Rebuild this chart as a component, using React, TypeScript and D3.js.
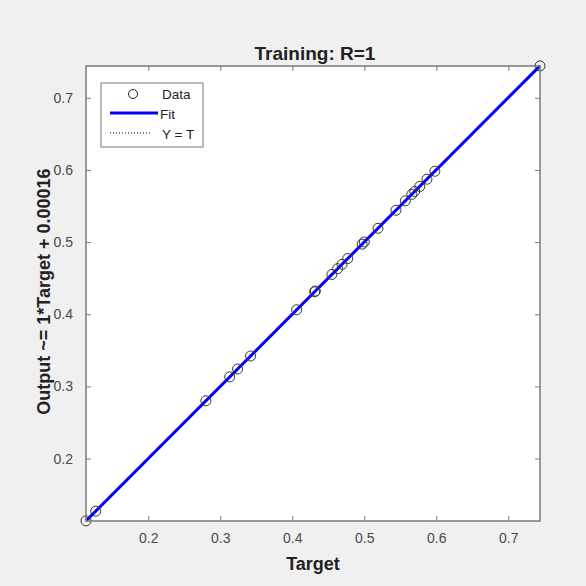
import React, { useEffect, useRef } from "react";
import * as d3 from "d3";

// targets (outputs ~= targets + 0.00016)
const targets = [
  0.1135, 0.127, 0.28, 0.313, 0.324, 0.342, 0.406, 0.431, 0.432, 0.455, 0.463,
  0.469, 0.477, 0.497, 0.5, 0.519, 0.544, 0.557, 0.566, 0.57, 0.577, 0.587,
  0.598, 0.744,
];
const slope = 1;
const intercept = 0.00016;
const outputs = targets.map((t) => t * slope + intercept);
const tickValues = [0.2, 0.3, 0.4, 0.5, 0.6, 0.7];
const legendLabels = ["Data", "Fit", "Y = T"];

const W = 586,
  H = 586;
const margin = { top: 66, right: 46, bottom: 65, left: 86 };

const App = () => {
  const ref = useRef<SVGSVGElement>(null);

  useEffect(() => {
    const svg = d3.select(ref.current);
    svg.selectAll("*").remove();

    const width = W - margin.left - margin.right;
    const height = H - margin.top - margin.bottom;
    const font = "'Liberation Sans', Arial, sans-serif";
    const fmt = d3.format(".1f");

    svg.append("rect").attr("width", W).attr("height", H).attr("fill", "#f0f0f0");

    const lo = d3.min(targets)!,
      hi = d3.max(targets)!;
    const x = d3.scaleLinear().domain([lo, hi]).range([0, width]);
    const y = d3.scaleLinear().domain([lo, hi]).range([height, 0]);

    const g = svg
      .append("g")
      .attr("transform", "translate(" + margin.left + "," + margin.top + ")");

    g.append("rect").attr("width", width).attr("height", height).attr("fill", "#fff");

    // Y = T dotted
    g.append("line")
      .attr("x1", x(lo))
      .attr("y1", y(lo))
      .attr("x2", x(hi))
      .attr("y2", y(hi))
      .attr("stroke", "#000")
      .attr("stroke-width", 1)
      .attr("stroke-dasharray", "1,2");

    // fit line
    g.append("line")
      .attr("x1", x(lo))
      .attr("y1", y(lo * slope + intercept))
      .attr("x2", x(hi))
      .attr("y2", y(hi * slope + intercept))
      .attr("stroke", "#0000ff")
      .attr("stroke-width", 3);

    g.selectAll(".dot")
      .data(targets)
      .enter()
      .append("circle")
      .attr("class", "dot")
      .attr("cx", (d) => x(d))
      .attr("cy", (d, i) => y(outputs[i]))
      .attr("r", 5)
      .attr("fill", "none")
      .attr("stroke", "#333")
      .attr("stroke-width", 1);

    // axes (ticks inward, box all round)
    const axisColor = "#7a7a7a";
    const styleAxis = (sel: any) => {
      sel.select(".domain").remove();
      sel.selectAll(".tick line").attr("stroke", axisColor);
      sel
        .selectAll(".tick text")
        .attr("fill", "#4a4a4a")
        .style("font-family", font)
        .style("font-size", "14px");
    };
    g.append("g")
      .attr("transform", "translate(0," + height + ")")
      .call(d3.axisBottom(x).tickValues(tickValues).tickSizeInner(-5).tickSizeOuter(0).tickPadding(12).tickFormat(fmt as any))
      .call(styleAxis);
    g.append("g")
      .call(d3.axisTop(x).tickValues(tickValues).tickSizeInner(-5).tickSizeOuter(0).tickFormat(() => ""))
      .call(styleAxis);
    g.append("g")
      .call(d3.axisLeft(y).tickValues(tickValues).tickSizeInner(-5).tickSizeOuter(0).tickPadding(13).tickFormat(fmt as any))
      .call(styleAxis);
    g.append("g")
      .attr("transform", "translate(" + width + ",0)")
      .call(d3.axisRight(y).tickValues(tickValues).tickSizeInner(-5).tickSizeOuter(0).tickFormat(() => ""))
      .call(styleAxis);
    g.append("rect")
      .attr("width", width)
      .attr("height", height)
      .attr("fill", "none")
      .attr("stroke", axisColor)
      .attr("stroke-width", 1.5);

    // title and labels
    svg.append("text")
      .attr("x", margin.left + width / 2 + 2)
      .attr("y", 60)
      .attr("text-anchor", "middle")
      .style("font-family", font)
      .style("font-size", "19px")
      .style("font-weight", "bold")
      .attr("fill", "#222")
      .text("Training: R=1");
    svg.append("text")
      .attr("x", margin.left + width / 2)
      .attr("y", 570)
      .attr("text-anchor", "middle")
      .style("font-family", font)
      .style("font-size", "18px")
      .style("font-weight", "bold")
      .attr("fill", "#222")
      .text("Target");
    svg.append("text")
      .attr("transform", "translate(50," + (margin.top + height / 2 - 2) + ") rotate(-90)")
      .attr("text-anchor", "middle")
      .style("font-family", font)
      .style("font-size", "18px")
      .style("font-weight", "bold")
      .attr("fill", "#222")
      .text("Output ~= 1*Target + 0.00016");

    // legend
    const lg = svg.append("g").attr("transform", "translate(101,83)");
    lg.append("rect")
      .attr("width", 102)
      .attr("height", 64)
      .attr("fill", "#fff")
      .attr("stroke", "#777")
      .attr("stroke-width", 1);
    lg.append("circle").attr("cx", 32).attr("cy", 11).attr("r", 4.5).attr("fill", "none").attr("stroke", "#222");
    lg.append("line").attr("x1", 9).attr("x2", 57).attr("y1", 30).attr("y2", 30).attr("stroke", "#0000ff").attr("stroke-width", 3);
    lg.append("line").attr("x1", 9).attr("x2", 51).attr("y1", 50).attr("y2", 50).attr("stroke", "#000").attr("stroke-dasharray", "1,2");
    lg.selectAll(".lt")
      .data(legendLabels)
      .enter()
      .append("text")
      .attr("x", (d, i) => (i === 1 ? 59 : 61))
      .attr("y", (d, i) => 16 + i * 20)
      .style("font-family", font)
      .style("font-size", "13.5px")
      .attr("fill", "#222")
      .text((d) => d);
  }, []);

  return (
    <svg ref={ref} width={W} height={H} style={{ position: "absolute", left: 0, top: 0 }}></svg>
  );
};

export default App;
